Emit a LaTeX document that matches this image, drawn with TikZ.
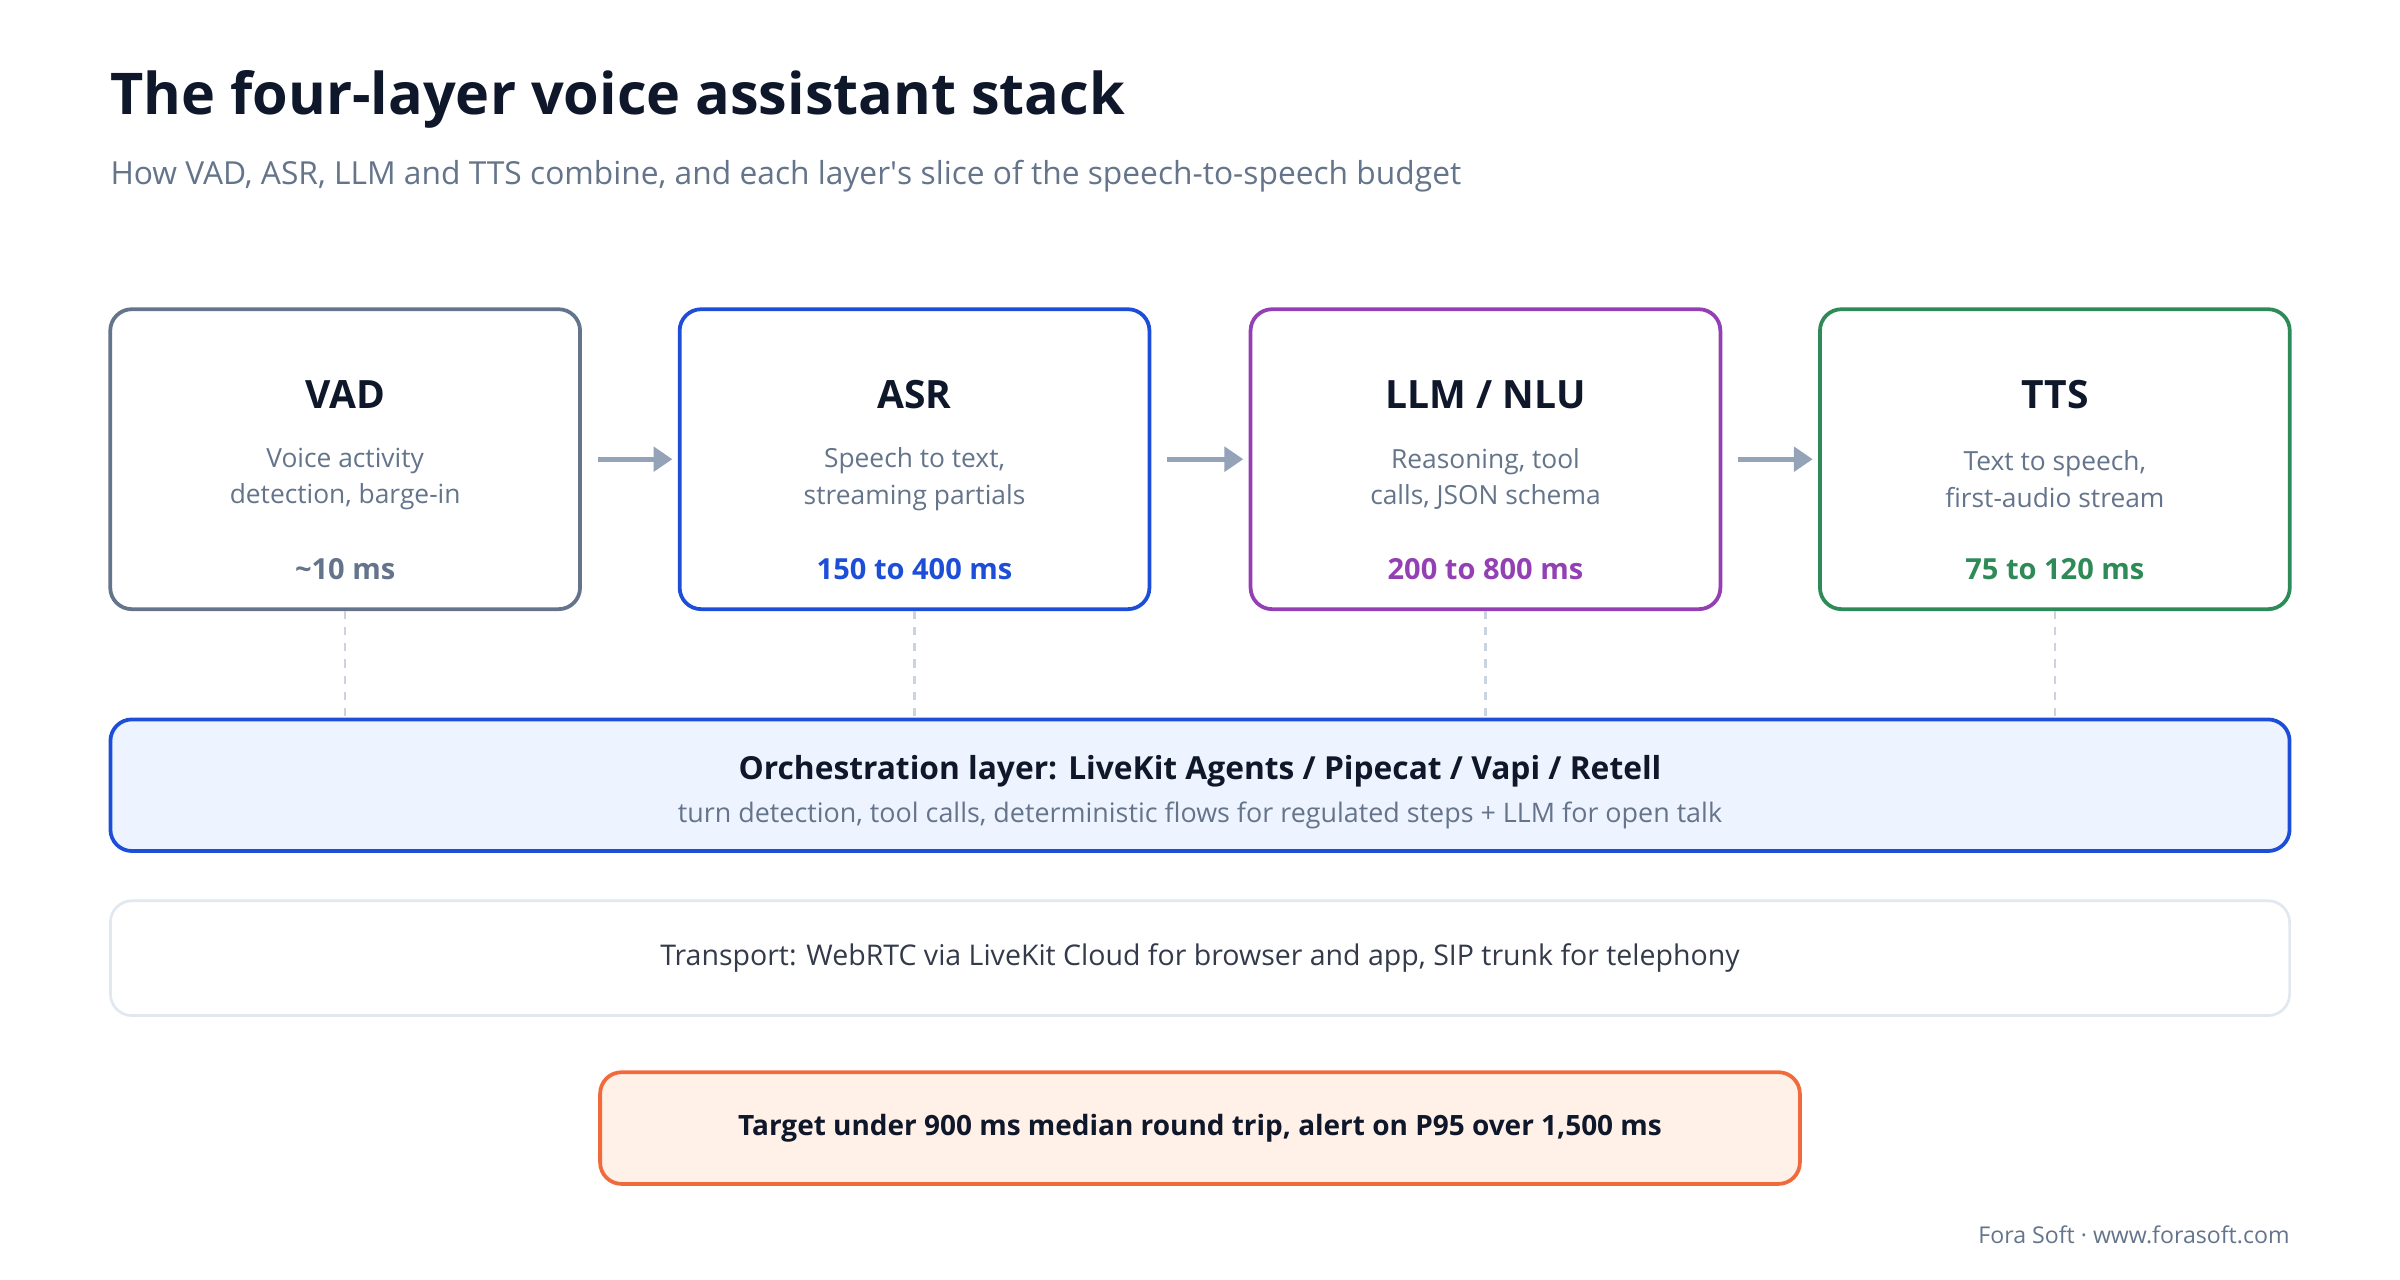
\documentclass[tikz,border=0pt]{standalone}
\usepackage{fontspec}
\setmainfont{Open Sans}
\usetikzlibrary{arrows.meta}
\definecolor{ink}{HTML}{0F172A}
\definecolor{muted}{HTML}{64748B}
\definecolor{vadc}{HTML}{64748B}
\definecolor{asrc}{HTML}{1D4ED8}
\definecolor{llmc}{HTML}{9440B5}
\definecolor{ttsc}{HTML}{2E8B57}
\definecolor{arr}{HTML}{94A3B8}
\definecolor{orchfill}{HTML}{EEF4FF}
\definecolor{tranc}{HTML}{E2E8F0}
\definecolor{tgtfill}{HTML}{FFF1E8}
\definecolor{tgtc}{HTML}{F06A3C}
\tikzset{
  layer/.style={draw=#1, line width=1.4pt, rounded corners=8pt, minimum width=6.14cm, minimum height=3.92cm},
  ttl/.style={font=\fontsize{14.5}{18}\selectfont\bfseries, text=ink},
  desc/.style={font=\fontsize{9.8}{13.5}\selectfont, text=muted, align=center},
  ms/.style={font=\fontsize{10.8}{13}\selectfont\bfseries, text=#1},
  flow/.style={-{Triangle[length=7pt,width=9pt]}, draw=arr, line width=2pt},
  tie/.style={draw=tranc!70!arr, dashed, line width=0.8pt}
}
\begin{document}
\begin{tikzpicture}[x=0.02cm,y=-0.02cm]
    \fill[white] (0,0) rectangle (1568,836);

    \node[anchor=west, font=\fontsize{21.4}{25}\selectfont\bfseries, text=ink] (title) at (66,65) {The four-layer voice assistant stack};
    \node[anchor=west, font=\fontsize{11.8}{14}\selectfont, text=muted] (subtitle) at (66,115) {How VAD, ASR, LLM and TTS combine, and each layer\textquotesingle s slice of the speech-to-speech budget};

    % the four layers
    \node[layer=vadc] (vad) at (225.5,300) {};
    \node[layer=asrc] (asr) at (597.5,300) {};
    \node[layer=llmc] (llm) at (970.5,300) {};
    \node[layer=ttsc] (tts) at (1342.5,300) {};

    \node[ttl] (vadt) at (225.5,258) {VAD};
    \node[desc] (vadd) at (225.5,313) {Voice activity\\detection, barge-in};
    \node[ms=vadc] (vadm) at (225.5,372) {\textasciitilde10 ms};

    \node[ttl] (asrt) at (597.5,258) {ASR};
    \node[desc] (asrd) at (597.5,313) {Speech to text,\\streaming partials};
    \node[ms=asrc] (asrm) at (597.5,372) {150 to 400 ms};

    \node[ttl] (llmt) at (970.5,258) {LLM / NLU};
    \node[desc] (llmd) at (970.5,313) {Reasoning, tool\\calls, JSON schema};
    \node[ms=llmc] (llmm) at (970.5,372) {200 to 800 ms};

    \node[ttl] (ttst) at (1342.5,258) {TTS};
    \node[desc] (ttsd) at (1342.5,313) {Text to speech,\\first-audio stream};
    \node[ms=ttsc] (ttsm) at (1342.5,372) {75 to 120 ms};

    \draw[flow] ([xshift=6]vad.east) -- ([xshift=-2]asr.west);
    \draw[flow] ([xshift=6]asr.east) -- ([xshift=-2]llm.west);
    \draw[flow] ([xshift=6]llm.east) -- ([xshift=-2]tts.west);

    % orchestration, transport, target
    \node[draw=asrc, fill=orchfill, line width=1.4pt, rounded corners=8pt, minimum width=28.48cm, minimum height=1.72cm] (orch) at (784,513) {};
    \node[font=\fontsize{11.8}{15}\selectfont\bfseries, text=ink] (orcht) at (784,504) {Orchestration layer: LiveKit Agents / Pipecat / Vapi / Retell};
    \node[font=\fontsize{10}{12}\selectfont, text=muted] (orchd) at (784,533) {turn detection, tool calls, deterministic flows for regulated steps + LLM for open talk};

    \draw[tie] (vad.south) -- (vad.south |- orch.north);
    \draw[tie] (asr.south) -- (asr.south |- orch.north);
    \draw[tie] (llm.south) -- (llm.south |- orch.north);
    \draw[tie] (tts.south) -- (tts.south |- orch.north);

    \node[draw=tranc, line width=1pt, rounded corners=8pt, minimum width=28.48cm, minimum height=1.5cm, font=\fontsize{10.6}{13}\selectfont, text=ink!85] (transport) at (784,626) {Transport: WebRTC via LiveKit Cloud for browser and app, SIP trunk for telephony};

    \node[draw=tgtc, fill=tgtfill, line width=1.4pt, rounded corners=8pt, minimum width=15.68cm, minimum height=1.46cm, font=\fontsize{10.4}{13}\selectfont\bfseries, text=ink] (target) at (784,737) {Target under 900 ms median round trip, alert on P95 over 1,500 ms};

    \node[anchor=east, font=\fontsize{8.6}{10}\selectfont, text=muted] (footer) at (1502,807) {Fora Soft · www.forasoft.com};
\end{tikzpicture}
\end{document}
